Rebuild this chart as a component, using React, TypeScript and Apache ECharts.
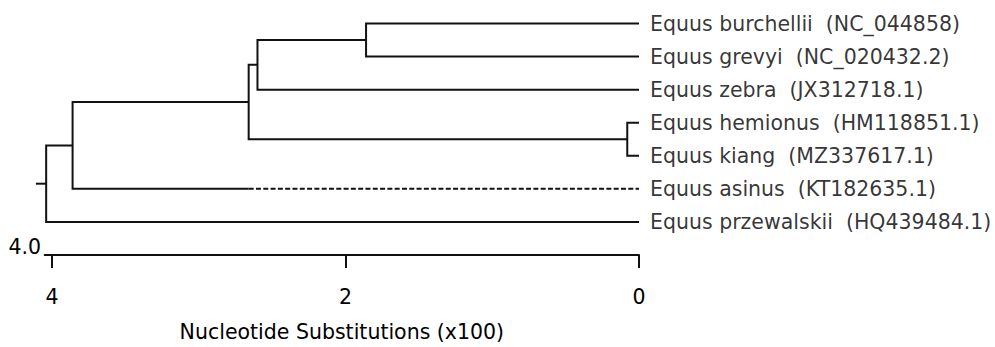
import React, { useEffect, useRef } from "react";
import * as echarts from "echarts";

// ---- data ----
const leafNames = [
  "Equus burchellii",
  "Equus grevyi",
  "Equus zebra",
  "Equus hemionus",
  "Equus kiang",
  "Equus asinus",
  "Equus przewalskii",
];
const leafAccessions = [
  "NC_044858",
  "NC_020432.2",
  "JX312718.1",
  "HM118851.1",
  "MZ337617.1",
  "KT182635.1",
  "HQ439484.1",
];
// branch drawn dashed from this height to the tip (null = solid all the way)
const leafDashFrom: (number | null)[] = [null, null, null, null, null, 2.66, null];

// internal nodes: children refs ("L" = leaf index, "C" = clade index) and heights (x100 substitutions)
const cladeChildren: [string, string][] = [
  ["L0", "L1"],
  ["C0", "L2"],
  ["L3", "L4"],
  ["C1", "C2"],
  ["C3", "L5"],
  ["C4", "L6"],
];
const cladeHeights = [1.86, 2.6, 0.08, 2.66, 3.86, 4.04];
const rootStem = 0.07;

const scaleTicks = [0, 2, 4];
const scaleLabel = "4.0";
const axisTitle = "Nucleotide Substitutions (x100)";

// ---- build geometry in data units ----
const FONT = "DejaVu Sans";
const INK = "#000";
const LINE = "#111";
const FS = 20.5;

function nodeX(ref: string): number {
  const i = Number(ref.slice(1));
  return ref[0] === "L" ? 0 : cladeHeights[i];
}
function nodeY(ref: string): number {
  const i = Number(ref.slice(1));
  if (ref[0] === "L") return i;
  const [a, b] = cladeChildren[i];
  return (nodeY(a) + nodeY(b)) / 2;
}
function branchEnd(ref: string): number {
  if (ref[0] === "L") {
    const d = leafDashFrom[Number(ref.slice(1))];
    return d == null ? 0 : d;
  }
  return nodeX(ref);
}

const solidLines = cladeChildren.map(([a, b], i) => {
  const h = cladeHeights[i];
  const ya = nodeY(a);
  const yb = nodeY(b);
  return {
    coords: [
      [branchEnd(a), ya],
      [h, ya],
      [h, yb],
      [branchEnd(b), yb],
    ],
  };
});
const rootIdx = cladeChildren.length - 1;
const rootY = nodeY("C" + rootIdx);
solidLines.push({
  coords: [
    [cladeHeights[rootIdx] + rootStem, rootY],
    [cladeHeights[rootIdx], rootY],
  ],
});

const dashedLines = leafDashFrom
  .map((d, i) => (d == null ? null : { coords: [[d, i], [0, i]] }))
  .filter(Boolean);

const leafPoints = leafNames.map((n, i) => ({
  value: [0, i],
  name: `${n}  (${leafAccessions[i]})`,
}));

const option: any = {
  animation: false,
  backgroundColor: "#fff",
  grid: { left: 44.7, right: 356, top: 23.5, bottom: 91 },
  xAxis: {
    type: "value",
    inverse: true,
    min: 0,
    max: 4.05,
    position: "bottom",
    axisLine: { show: true, onZero: false, lineStyle: { color: LINE, width: 2 } },
    axisTick: {
      show: true,
      inside: false,
      length: 13,
      customValues: scaleTicks,
      lineStyle: { color: LINE, width: 2 },
    },
    axisLabel: {
      show: true,
      customValues: scaleTicks,
      margin: 31,
      fontSize: FS,
      fontFamily: FONT,
      color: INK,
      formatter: (v: number) => String(v),
    },
    splitLine: { show: false },
    name: axisTitle,
    nameLocation: "middle",
    nameGap: 66,
    nameTextStyle: { fontSize: FS, fontFamily: FONT, color: INK },
  },
  yAxis: { type: "value", inverse: true, min: 0, max: 7, show: false },
  series: [
    {
      type: "lines",
      coordinateSystem: "cartesian2d",
      polyline: true,
      clip: false,
      silent: true,
      lineStyle: { color: LINE, width: 2, type: "solid", opacity: 1 },
      data: solidLines,
    },
    {
      type: "lines",
      coordinateSystem: "cartesian2d",
      polyline: true,
      clip: false,
      silent: true,
      lineStyle: { color: LINE, width: 2, type: [5, 2.3], opacity: 1 },
      data: dashedLines,
    },
    {
      type: "scatter",
      symbolSize: 0,
      silent: true,
      clip: false,
      data: leafPoints,
      label: {
        show: true,
        position: "right",
        distance: 11,
        formatter: (p: any) => p.name,
        fontSize: FS,
        fontFamily: FONT,
        color: INK,
      },
    },
  ],
  graphic: [
    {
      type: "text",
      x: 41,
      y: 247,
      style: {
        text: scaleLabel,
        fontSize: FS,
        fontFamily: FONT,
        fill: INK,
        align: "right",
        verticalAlign: "middle",
      },
    },
  ],
};

export default function App() {
  const ref = useRef<HTMLDivElement>(null);
  useEffect(() => {
    const chart = echarts.init(ref.current!, null, { renderer: "svg" });
    chart.setOption(option);
    return () => chart.dispose();
  }, []);
  return (
    <div
      ref={ref}
      style={{ position: "absolute", left: 0, top: 0, width: 995, height: 347, background: "#fff" }}
    />
  );
}
